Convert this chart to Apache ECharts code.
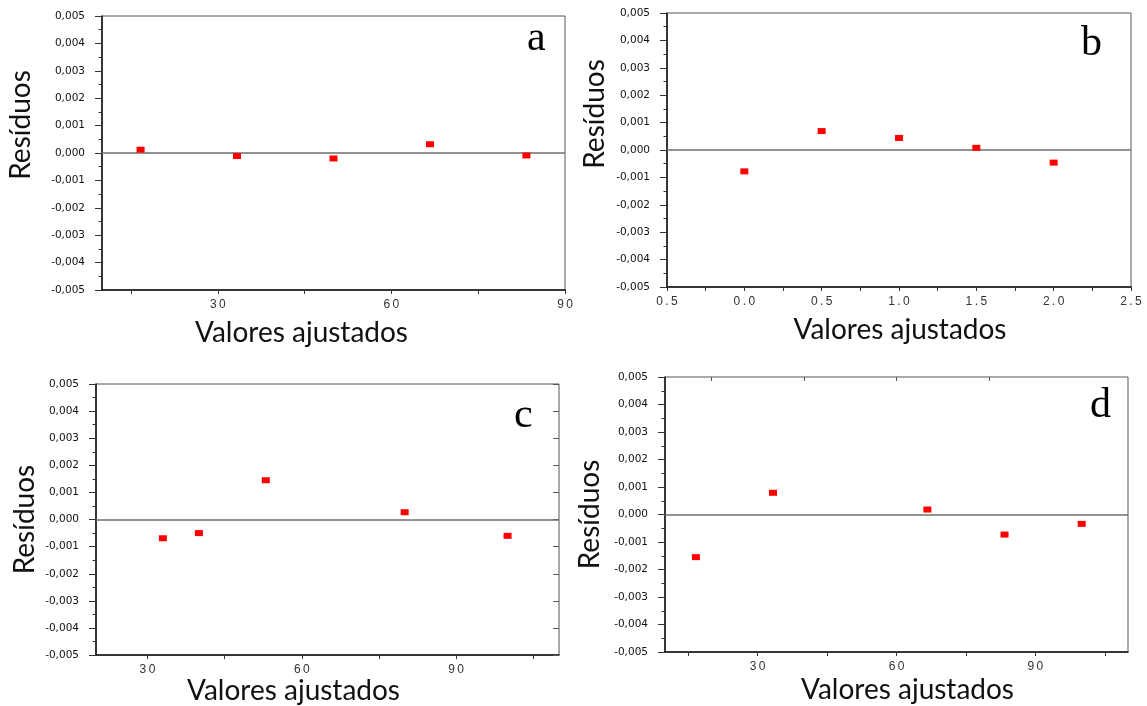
<!DOCTYPE html>
<html>
<head>
<meta charset="utf-8">
<script src="https://cdn.jsdelivr.net/npm/echarts@6/dist/echarts.min.js"></script>
<style>
  html, body { margin: 0; padding: 0; background: #ffffff; }
  #chart { width: 1147px; height: 706px; }
</style>
</head>
<body>
<div id="chart"></div>
<script>
// Residuals vs fitted values for four models (a–d)
const fittedA = [16.67, 33.33, 50, 66.67, 83.33];
const residA  = [0.00012, -0.00011, -0.0002, 0.00032, -0.00009];

const fittedB = [0, 0.5, 1.0, 1.5, 2.0];
const residB  = [-0.00078, 0.00069, 0.00044, 0.00008, -0.00046];

const fittedC = [33, 40, 53, 80, 100];
const residC  = [-0.00069, -0.0005, 0.00145, 0.00027, -0.0006];

const fittedD = [16.67, 33.33, 66.67, 83.33, 100];
const residD  = [-0.00155, 0.00079, 0.00018, -0.00073, -0.00034];

// Y ticks shared by all panels
const yTickValues = [-0.005, -0.004, -0.003, -0.002, -0.001, 0, 0.001, 0.002, 0.003, 0.004, 0.005];
const yTickLabels = ['-0,005', '-0,004', '-0,003', '-0,002', '-0,001', '0,000', '0,001', '0,002', '0,003', '0,004', '0,005'];

// X ticks per panel
const xLabelValuesA = [30, 60, 90];
const xLabelTextsA  = ['30', '60', '90'];
const xTickValuesA  = [15, 30, 45, 60, 75, 90];

const xLabelValuesB = [-0.5, 0, 0.5, 1.0, 1.5, 2.0, 2.5];
const xLabelTextsB  = ['0.5', '0.0', '0.5', '1.0', '1.5', '2.0', '2.5'];
const xTickValuesB  = [-0.5, -0.25, 0, 0.25, 0.5, 0.75, 1.0, 1.25, 1.5, 1.75, 2.0, 2.25, 2.5];

const xLabelValuesC = [30, 60, 90];
const xLabelTextsC  = ['30', '60', '90'];
const xTickValuesC  = [30, 45, 60, 75, 90, 105];

const xLabelValuesD = [30, 60, 90];
const xLabelTextsD  = ['30', '60', '90'];
const xTickValuesD  = [15, 30, 45, 60, 75, 90, 105];
const xTopTickValuesD = [20, 40, 60, 80];

const panelLetters = ['a', 'b', 'c', 'd'];
const yName = 'Resíduos';
const xName = 'Valores ajustados';

function nearestLabel(values, texts, v) {
  let best = 0;
  for (let i = 1; i < values.length; i++) {
    if (Math.abs(values[i] - v) < Math.abs(values[best] - v)) best = i;
  }
  return texts[best];
}
function spaced(s) { return s.split('').join('\u2009'); }

const panels = [
  { grid: { left: 102, top: 16, width: 463, height: 274 }, xMin: 10, xMax: 90,
    lv: xLabelValuesA, lt: xLabelTextsA, tv: xTickValuesA, fitted: fittedA, resid: residA,
    yGap: 67, yPad: [0, 0, 0, 56], xGap: 29, xPad: [0, 64, 0, 0] },
  { grid: { left: 667, top: 13, width: 464, height: 274 }, xMin: -0.5, xMax: 2.5,
    lv: xLabelValuesB, lt: xLabelTextsB, tv: xTickValuesB, fitted: fittedB, resid: residB,
    yGap: 58, yPad: [0, 0, 0, 72], xGap: 29, xPad: [0, 0, 0, 2] },
  { grid: { left: 96, top: 384, width: 463, height: 274 }, xMin: 20, xMax: 110,
    lv: xLabelValuesC, lt: xLabelTextsC, tv: xTickValuesC, fitted: fittedC, resid: residC,
    yGap: 57, yPad: [0, 0, 0, 0], xGap: 16, xPad: [0, 68, 0, 0] },
  { grid: { left: 665, top: 377, width: 463, height: 275 }, xMin: 10, xMax: 110,
    lv: xLabelValuesD, lt: xLabelTextsD, tv: xTickValuesD, fitted: fittedD, resid: residD,
    yGap: 61, yPad: [0, 0, 0, 0], xGap: 24, xPad: [0, 0, 0, 22] }
];

const grids = [], xAxes = [], yAxes = [], series = [];

panels.forEach((p, i) => {
  grids.push(Object.assign({ show: true, borderColor: '#555', borderWidth: 1, backgroundColor: '#fff' }, p.grid));

  xAxes.push({
    type: 'value', gridIndex: i, min: p.xMin, max: p.xMax, position: 'bottom',
    name: xName, nameLocation: 'middle', nameGap: p.xGap,
    nameTextStyle: { fontFamily: 'Lato', fontSize: 28, color: '#111', lineHeight: 28, padding: p.xPad },
    axisLine: { show: true, onZero: false, lineStyle: { color: '#111', width: 1.5 } },
    axisTick: { show: true, customValues: p.tv, length: 4, lineStyle: { color: '#333' } },
    axisLabel: {
      customValues: p.lv, margin: 9, fontFamily: 'Liberation Sans', fontSize: 12, color: '#333',
      formatter: v => spaced(nearestLabel(p.lv, p.lt, v))
    },
    splitLine: { show: false }
  });

  yAxes.push({
    type: 'value', gridIndex: i, min: -0.005, max: 0.005, interval: 0.001,
    name: yName, nameLocation: 'middle', nameGap: p.yGap,
    nameTextStyle: { fontFamily: 'Lato', fontSize: 28, color: '#111', lineHeight: 28, padding: p.yPad },
    axisLine: { show: true, onZero: false, lineStyle: { color: '#111', width: 1.5 } },
    axisTick: { show: true, length: 7, lineStyle: { color: '#333' } },
    minorTick: { show: true, splitNumber: 2, length: 3.5, lineStyle: { color: '#333' } },
    axisLabel: {
      margin: 17, fontFamily: 'DejaVu Sans', fontSize: 10.5, color: '#111',
      formatter: v => nearestLabel(yTickValues, yTickLabels, v)
    },
    splitLine: { show: false }, minorSplitLine: { show: false }
  });

  series.push({
    type: 'scatter', xAxisIndex: i, yAxisIndex: i,
    data: p.fitted.map((x, k) => [x, p.resid[k]]),
    symbol: 'rect', symbolSize: [8, 6],
    itemStyle: { color: '#ff0000', opacity: 1 },
    z: 5,
    markLine: {
      silent: true, symbol: ['none', 'none'], label: { show: false },
      lineStyle: { color: '#6e6e6e', width: 1.5, type: 'solid' },
      data: [{ yAxis: 0 }], z: 3
    }
  });
});

// Extra tick marks: top edge of panel d, right edge of panel c
xAxes.push({
  type: 'value', gridIndex: 3, min: 10, max: 110, position: 'top',
  axisLine: { show: false, onZero: false },
  axisTick: { show: true, inside: true, customValues: xTopTickValuesD, length: 4, lineStyle: { color: '#555' } },
  axisLabel: { show: false }, splitLine: { show: false }
});
yAxes.push({
  type: 'value', gridIndex: 2, min: -0.005, max: 0.005, interval: 0.001, position: 'right',
  axisLine: { show: false, onZero: false },
  axisTick: { show: true, inside: true, length: 6, lineStyle: { color: '#555' } },
  axisLabel: { show: false }, splitLine: { show: false }
});

// Panel letters
const letterPos = [[539, 39], [1093, 44], [526, 416], [1102, 406]];
const graphic = panelLetters.map((t, i) => ({
  type: 'text', left: letterPos[i][0] - 12, top: letterPos[i][1] - 21, z: 10,
  style: { text: t, font: '42px "Liberation Serif"', fill: '#000' }
}));

const chart = echarts.init(document.getElementById('chart'), null, { renderer: 'canvas' });
chart.setOption({
  animation: false,
  backgroundColor: '#ffffff',
  grid: grids,
  xAxis: xAxes,
  yAxis: yAxes,
  series: series,
  graphic: graphic
});
</script>
</body>
</html>
